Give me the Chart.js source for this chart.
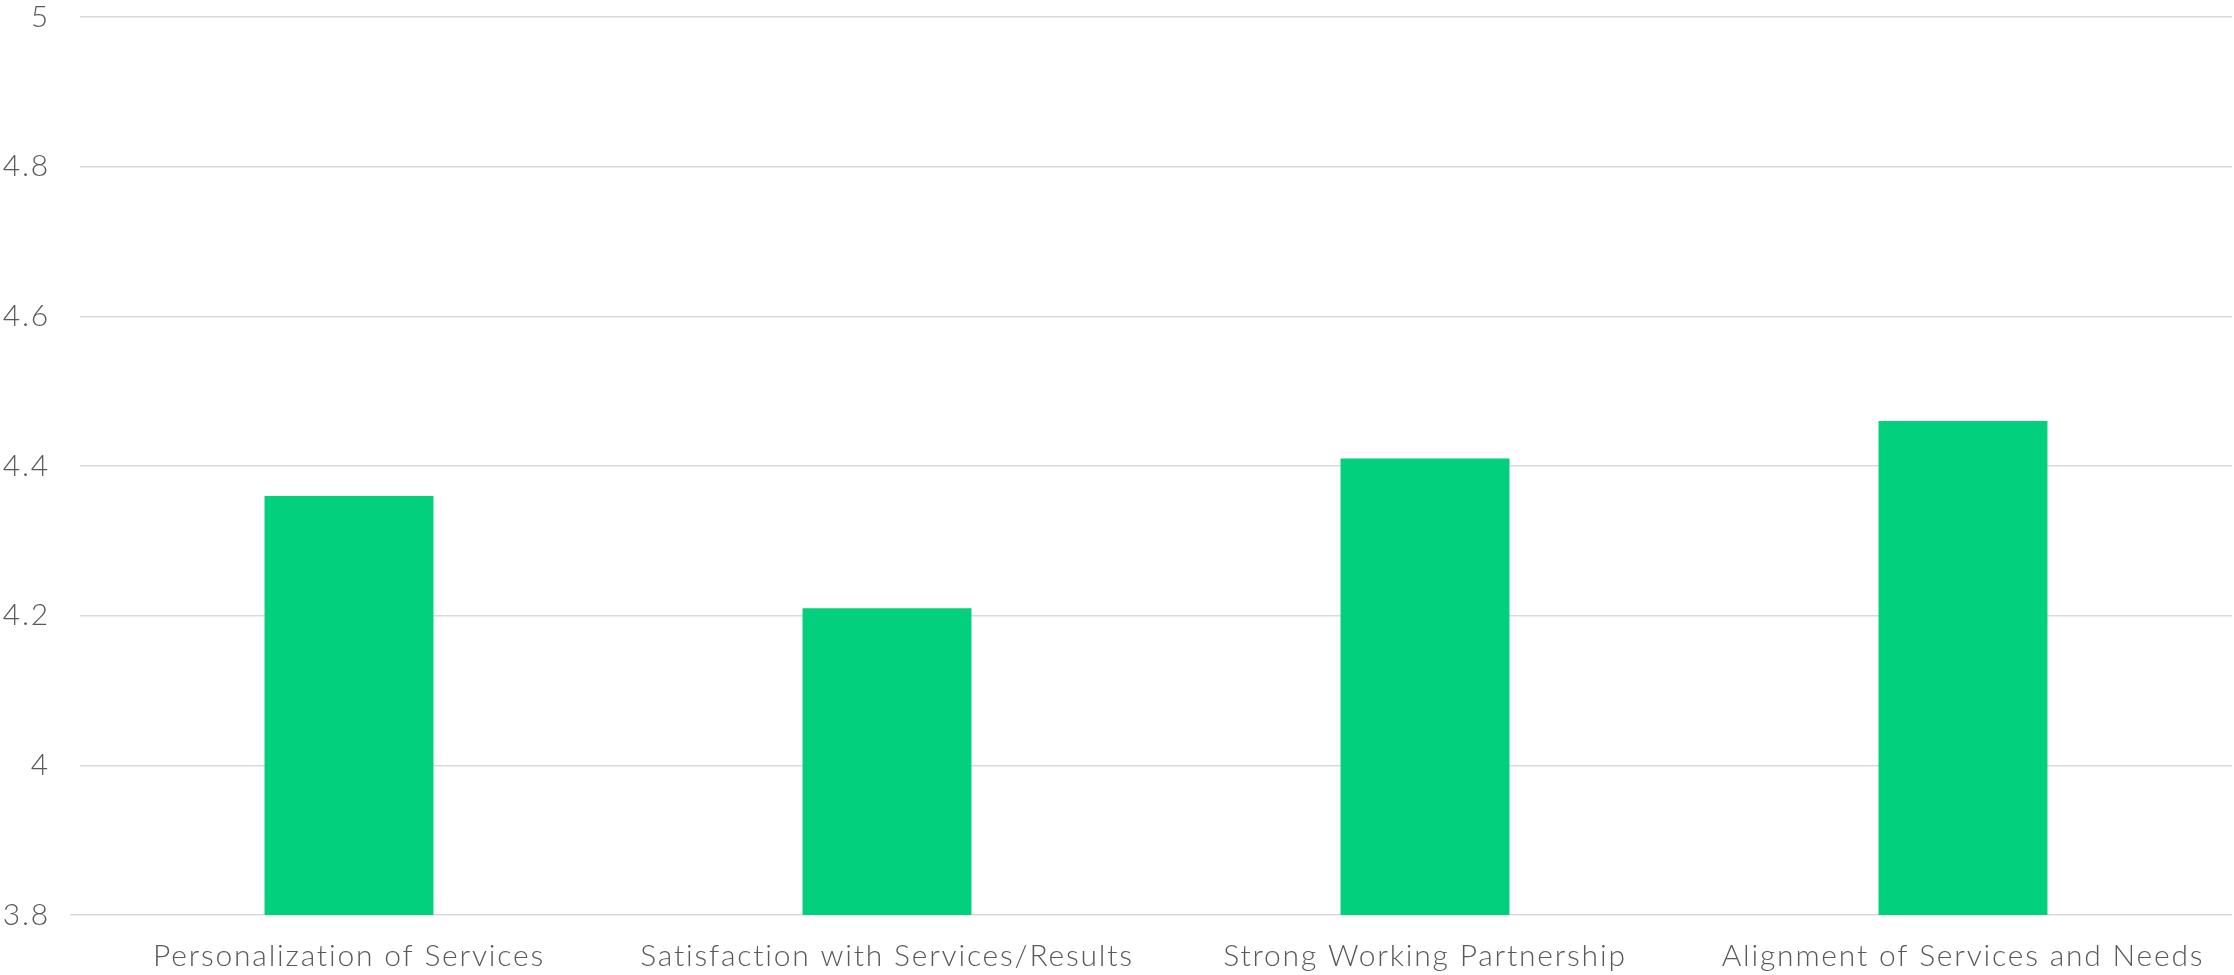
<!DOCTYPE html>
<html>
<head>
<meta charset="utf-8">
<script src="https://cdn.jsdelivr.net/npm/chart.js@4"></script>
<style>
  html, body { margin: 0; padding: 0; background: #ffffff; }
  #wrap { width: 2234px; height: 975px; }
</style>
</head>
<body>
<div id="wrap"><canvas id="chart" width="2234" height="975"></canvas></div>
<script>
// Average scores per service dimension
const categories = [
  "Personalization of Services",
  "Satisfaction with Services/Results",
  "Strong Working Partnership",
  "Alignment of Services and Needs"
];
const scores = [4.36, 4.21, 4.41, 4.46];
const yMin = 3.8;
const yMax = 5;
const yStep = 0.2;

const fontFamily = "'Lato', 'Open Sans', sans-serif";
const textColor = "#595959";
const gridColor = "#d9d9d9";

// Slightly open letter spacing for a wider, airier label face
const spacingPlugin = {
  id: "letterSpacing",
  beforeUpdate(chart) { chart.ctx.letterSpacing = "1.8px"; },
  beforeDraw(chart) { chart.ctx.letterSpacing = "1.8px"; }
};

new Chart(document.getElementById("chart"), {
  type: "bar",
  data: {
    labels: categories,
    datasets: [{
      data: scores,
      backgroundColor: "#02d07d",
      borderWidth: 0,
      categoryPercentage: 1.0,
      barPercentage: 0.314
    }]
  },
  options: {
    responsive: false,
    animation: false,
    layout: { padding: { top: 0, right: 2, left: 0, bottom: 0 } },
    plugins: {
      legend: { display: false },
      tooltip: { enabled: false }
    },
    scales: {
      x: {
        grid: { display: false },
        border: { display: false },
        ticks: {
          color: textColor,
          font: { family: fontFamily, size: 30, weight: 300 },
          padding: 15,
          maxRotation: 0,
          autoSkip: false
        },
        afterFit: (scale) => {
          scale.height = 60;
          scale.paddingLeft = 0;
          scale.paddingRight = 0;
        }
      },
      y: {
        min: yMin,
        max: yMax,
        border: { display: false },
        grid: {
          color: gridColor,
          lineWidth: 1.5,
          drawTicks: true,
          tickLength: 10,
          tickColor: (ctx) => (ctx.index === 0 ? gridColor : "rgba(0,0,0,0)")
        },
        ticks: {
          stepSize: yStep,
          color: textColor,
          font: { family: fontFamily, size: 30, weight: 300 },
          padding: 20,
          callback: (v) => String(Math.round(v * 10) / 10)
        },
        afterFit: (scale) => {
          scale.width = 80;
          scale.paddingTop = 17;
          scale.paddingBottom = 0;
        }
      }
    }
  },
  plugins: [spacingPlugin]
});
</script>
</body>
</html>
